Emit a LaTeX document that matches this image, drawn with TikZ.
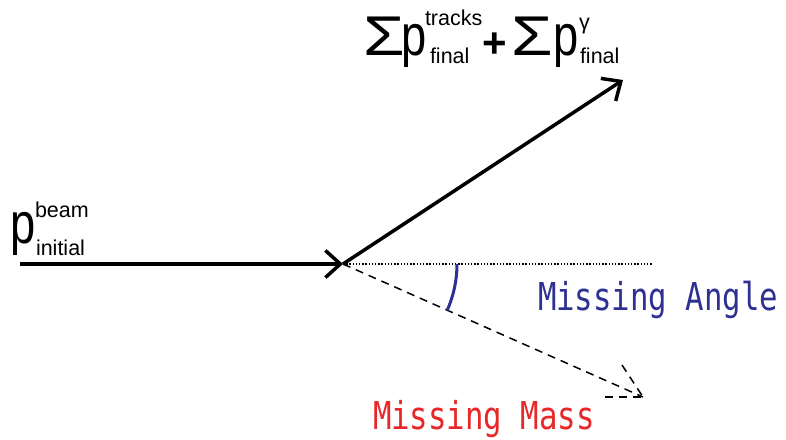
\documentclass[tikz,border=0pt]{standalone}
\usepackage{fontspec}
\setmainfont{Liberation Sans}
\newfontfamily\misfont[FakeStretch=0.8]{DejaVu Sans Mono}
\newfontfamily\pfont[FakeStretch=0.78]{Liberation Sans}
\newfontfamily\sigfont[FakeStretch=1.2]{Liberation Sans}
\usetikzlibrary{arrows.meta}
\definecolor{angblue}{RGB}{46,49,146}
\definecolor{massred}{RGB}{232,40,40}
\begin{document}
\begin{tikzpicture}[x=1pt,y=-1pt,
  lbl/.style={anchor=base west,inner sep=0pt,outer sep=0pt},
  bigp/.style={lbl,font=\pfont\fontsize{58}{58}\selectfont},
  bigs/.style={lbl,font=\sigfont\fontsize{56}{56}\selectfont},
  small/.style={lbl,font=\fontsize{21.5}{21.5}\selectfont},
  mis/.style={lbl,font=\misfont\fontsize{38.4}{38.4}\selectfont},
  mom/.style={line width=3.5pt,-{Straight Barb[length=15pt,width=27pt]}},
  miss/.style={line width=1.5pt,dash pattern=on 8pt off 6pt},
  dotline/.style={line width=1.3pt,dash pattern=on 1.3pt off 1.9pt}]
\useasboundingbox (0,0) rectangle (786,439);
% points
\coordinate (start) at (20,264);
\coordinate (v) at (343,264);
\coordinate (out) at (623,80);
\coordinate (dotend) at (653,264);
\coordinate (mm) at (643,397);
\coordinate (mb1) at (605,397);
\coordinate (mb2) at (622,365);
\coordinate (arcstart) at (457,264);
% lines
\draw[mom] (start) -- (v);
\draw[mom] (v) -- (out);
\draw[dotline] (v) -- (dotend);
\draw[miss] (v) -- (mm);
\draw[miss] (mb1) -- (mm);
\draw[miss] (mb2) -- (mm);
\draw[angblue,line width=3pt] (arcstart) arc[start angle=0,end angle=24,radius=114];
% final momentum label
\node[bigs] (s1) at (363,55) {Σ};
\node[bigp] (p1) at (401,55) {p};
\node[small] (t1) at (425,25) {tracks};
\node[small] (f1) at (430,63) {final};
\node[lbl,font=\fontsize{42}{42}\selectfont\bfseries] (plus) at (482,57) {+};
\node[bigs] (s2) at (511,55) {Σ};
\node[bigp] (p2) at (553,55) {p};
\node[small] (g2) at (579,29.5) {γ};
\node[small] (f2) at (580,63) {final};
% beam label
\node[bigp] (p0) at (10,243) {p};
\node[small] (b0) at (35,217) {beam};
\node[small] (i0) at (36,255) {initial};
% missing labels
\node[mis,text=angblue] (ang) at (538,310) {Missing Angle};
\node[mis,text=massred] (mass) at (373,429) {Missing Mass};
\end{tikzpicture}
\end{document}
